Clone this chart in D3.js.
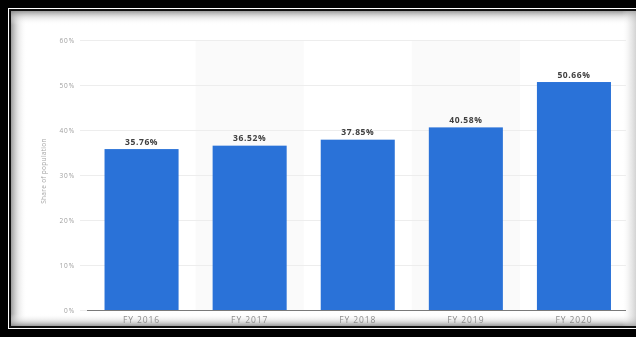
<!DOCTYPE html>
<html>
<head>
<meta charset="utf-8">
<script src="https://cdn.jsdelivr.net/npm/d3@7"></script>
<style>
  html, body { margin: 0; padding: 0; background: #fff; }
  svg { display: block; }
  text { font-family: "Open Sans", "Noto Sans", sans-serif; }
</style>
</head>
<body>
<script>
// Share of population, by fiscal year
const categories = ["FY 2016", "FY 2017", "FY 2018", "FY 2019", "FY 2020"];
const shares = [35.76, 36.52, 37.85, 40.58, 50.66];
const valueLabels = ["35.76%", "36.52%", "37.85%", "40.58%", "50.66%"];
const yTicks = [0, 10, 20, 30, 40, 50, 60];
const yTickLabels = ["0%", "10%", "20%", "30%", "40%", "50%", "60%"];
const yTitle = "Share of population";

const W = 636, H = 337;
const svg = d3.select("body").append("svg").attr("width", W).attr("height", H);
const defs = svg.append("defs");

// Soft text rendering
defs.append("filter").attr("id", "soft")
  .append("feGaussianBlur").attr("stdDeviation", 0.35);

function grad(id, x1, y1, x2, y2, dark, op) {
  const g = defs.append("linearGradient").attr("id", id)
    .attr("x1", x1).attr("y1", y1).attr("x2", x2).attr("y2", y2);
  g.append("stop").attr("offset", "0%").attr("stop-color", dark).attr("stop-opacity", op);
  g.append("stop").attr("offset", "45%").attr("stop-color", "#cccccc").attr("stop-opacity", op * 0.55);
  g.append("stop").attr("offset", "100%").attr("stop-color", "#ffffff").attr("stop-opacity", 0);
}
grad("shL", "0", "0", "1", "0", "#8a8a8a", 0.85);
grad("shR", "1", "0", "0", "0", "#b5b5b5", 0.6);
grad("shT", "0", "0", "0", "1", "#8a8a8a", 0.85);
grad("shB", "0", "1", "0", "0", "#8a8a8a", 0.85);

// Frame: thick black band, thin white line, thin black line
svg.append("rect").attr("width", W).attr("height", H).attr("fill", "#000");
svg.append("rect").attr("x", 8).attr("y", 8).attr("width", W - 8).attr("height", H - 16).attr("fill", "#fff");
svg.append("rect").attr("x", 9).attr("y", 9).attr("width", W - 9).attr("height", H - 18).attr("fill", "#111");
svg.append("rect").attr("x", 11).attr("y", 11).attr("width", W - 11).attr("height", H - 22).attr("fill", "#fff");

// Inner shading along the edges of the panel
svg.append("rect").attr("x", 11).attr("y", 11).attr("width", 16).attr("height", H - 22).attr("fill", "url(#shL)");
svg.append("rect").attr("x", 11).attr("y", 11).attr("width", W - 11).attr("height", 14).attr("fill", "url(#shT)");
svg.append("rect").attr("x", 11).attr("y", H - 11 - 12).attr("width", W - 11).attr("height", 12).attr("fill", "url(#shB)");
svg.append("rect").attr("x", W - 14).attr("y", 11).attr("width", 14).attr("height", H - 22).attr("fill", "url(#shR)");

const x = d3.scaleBand().domain(categories).range([87.5, 628]).paddingInner(0.315).paddingOuter(0.1575);
const y = d3.scaleLinear().domain([0, 60]).range([310, 40]);

// Alternating column shading
const bandStep = x.step();
svg.append("g").selectAll("rect")
  .data(categories.filter((d, i) => i % 2 === 1))
  .join("rect")
  .attr("x", d => x(d) + x.bandwidth() / 2 - bandStep / 2)
  .attr("y", y(60))
  .attr("width", bandStep)
  .attr("height", y(0) - y(60))
  .attr("fill", "#fafafa");

// Horizontal gridlines and y tick labels
const yAxis = d3.axisLeft(y).tickValues(yTicks)
  .tickFormat((d, i) => yTickLabels[i])
  .tickSize(-(626 - 80)).tickPadding(5);
const gy = svg.append("g").attr("transform", "translate(80,0)").call(yAxis);
gy.select(".domain").remove();
gy.selectAll(".tick line").attr("stroke", "#ededed").attr("stroke-width", 1);
gy.selectAll(".tick text").attr("fill", "#a0a0a0")
  .attr("filter", "url(#soft)")
  .style("font-size", "6.5px").style("letter-spacing", "0.9px");

// Bars
svg.append("g").selectAll("rect")
  .data(categories)
  .join("rect")
  .attr("x", d => x(d))
  .attr("y", (d, i) => y(shares[i]))
  .attr("width", x.bandwidth())
  .attr("height", (d, i) => y(0) - y(shares[i]))
  .attr("fill", "#2a72d8");

// Value labels above bars
svg.append("g").selectAll("text")
  .data(categories)
  .join("text")
  .attr("x", d => x(d) + x.bandwidth() / 2)
  .attr("y", (d, i) => y(shares[i]) - 4.5)
  .attr("text-anchor", "middle")
  .attr("fill", "#404040")
  .attr("filter", "url(#soft)")
  .style("font-size", "8.5px")
  .style("font-weight", "700")
  .style("letter-spacing", "0.6px")
  .text((d, i) => valueLabels[i]);

// Baseline and category labels
const xAxis = d3.axisBottom(x).tickSize(0).tickPadding(7);
const gx = svg.append("g").attr("transform", `translate(0,${y(0)})`).call(xAxis);
gx.select(".domain").attr("d", "M87,0.5H626").attr("stroke", "#7a7a7a").attr("stroke-width", 1);
gx.selectAll(".tick text").attr("fill", "#8c8c8c")
  .attr("filter", "url(#soft)")
  .style("font-size", "8.5px").style("letter-spacing", "0.9px");

// Y axis title
svg.append("text")
  .attr("transform", "translate(46,171) rotate(-90)")
  .attr("text-anchor", "middle")
  .attr("fill", "#a8a8a8")
  .attr("filter", "url(#soft)")
  .style("font-size", "6.5px")
  .style("letter-spacing", "0.3px")
  .text(yTitle);
</script>
</body>
</html>
